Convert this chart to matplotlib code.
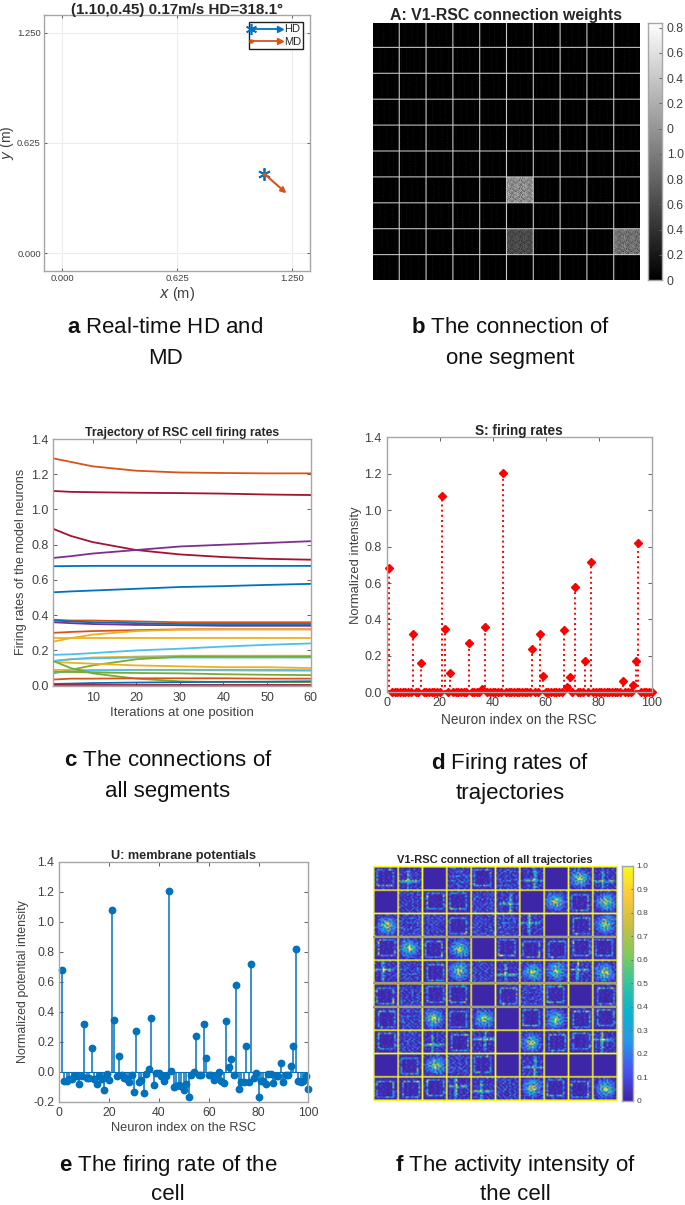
import numpy as np
import matplotlib
matplotlib.use("Agg")
import matplotlib.pyplot as plt
from matplotlib.colors import LinearSegmentedColormap
from matplotlib.legend_handler import HandlerBase
from matplotlib.lines import Line2D

plt.rcParams['font.family'] = ['Liberation Sans', 'DejaVu Sans']
plt.rcParams['mathtext.fontset'] = 'custom'
plt.rcParams['mathtext.bf'] = 'Liberation Sans:bold'
plt.rcParams['mathtext.rm'] = 'Liberation Sans'
plt.rcParams['axes.unicode_minus'] = False

W, H = 685, 1205
BLUE, ORANGE, YELLOW, PURPLE, GREEN, CYAN, DARKRED = '#0072BD', '#D95319', '#EDB120', '#7E2F8E', '#77AC30', '#4DBEEE', '#A2142F'
TXT = '#404040'
EDGE = '#a6a6a6'

# panel a
hd_pos = [1.10, 0.45]
md_tip = [1.22, 0.34]
pos_ticks = [0.0, 0.625, 1.25]
pos_labels = ['0.000', '0.625', '1.250']

# panel b
b_cbar_ticks = [0, 0.2, 0.4, 0.6, 0.8, 1.0, 1.2, 1.4, 1.6, 1.8, 2.0]
b_cbar_labels = ['0', '0.2', '0.4', '0.6', '0.8', '1.0', '0', '0.2', '0.4', '0.6', '0.8']
# row, column, grey level of the three bright cells
b_bright_row = [6, 8, 8]
b_bright_col = [5, 5, 9]
b_bright_val = [0.62, 0.33, 0.50]
speckle_tile = ["79685947", "58976869", "96748597", "67859468",
                "85697956", "49768685", "78594769", "69857498"]
streak_tile = ["000010000200", "000000000100", "000020000000", "000010000200",
               "000000000000", "000020000100", "000010000200", "000000000000",
               "000020000100", "000010000000", "000000000200", "000020000100"]

# panel c, sampled at these iterations
iters = [1, 5, 10, 20, 30, 40, 50, 60]
traj_colors = [ORANGE, DARKRED, DARKRED, PURPLE, BLUE, BLUE, ORANGE, PURPLE, BLUE, ORANGE, YELLOW, YELLOW, CYAN,
               YELLOW, CYAN, GREEN, YELLOW, YELLOW, CYAN, GREEN, GREEN, ORANGE, BLUE, DARKRED, ORANGE]
traj_rates = [
    [1.29, 1.27, 1.245, 1.22, 1.21, 1.207, 1.205, 1.205],
    [1.105, 1.10, 1.098, 1.095, 1.093, 1.09, 1.085, 1.082],
    [0.89, 0.85, 0.815, 0.77, 0.745, 0.73, 0.72, 0.715],
    [0.725, 0.735, 0.75, 0.77, 0.79, 0.80, 0.81, 0.82],
    [0.678, 0.679, 0.68, 0.68, 0.68, 0.68, 0.68, 0.68],
    [0.53, 0.535, 0.54, 0.55, 0.56, 0.565, 0.572, 0.578],
    [0.375, 0.37, 0.37, 0.365, 0.36, 0.36, 0.36, 0.36],
    [0.36, 0.355, 0.35, 0.345, 0.343, 0.34, 0.34, 0.34],
    [0.37, 0.365, 0.36, 0.355, 0.35, 0.35, 0.35, 0.35],
    [0.30, 0.305, 0.31, 0.315, 0.32, 0.32, 0.32, 0.32],
    [0.25, 0.27, 0.29, 0.31, 0.318, 0.32, 0.32, 0.32],
    [0.27, 0.27, 0.27, 0.27, 0.27, 0.27, 0.27, 0.27],
    [0.175, 0.178, 0.185, 0.20, 0.21, 0.222, 0.232, 0.24],
    [0.14, 0.15, 0.16, 0.165, 0.17, 0.17, 0.17, 0.17],
    [0.14, 0.15, 0.155, 0.16, 0.16, 0.16, 0.16, 0.16],
    [0.07, 0.09, 0.115, 0.15, 0.165, 0.165, 0.165, 0.165],
    [0.135, 0.13, 0.125, 0.115, 0.11, 0.105, 0.105, 0.10],
    [0.09, 0.09, 0.09, 0.09, 0.088, 0.087, 0.085, 0.085],
    [0.075, 0.08, 0.085, 0.09, 0.09, 0.09, 0.09, 0.088],
    [0.14, 0.10, 0.07, 0.04, 0.025, 0.02, 0.02, 0.02],
    [0.08, 0.078, 0.075, 0.072, 0.07, 0.065, 0.062, 0.06],
    [0.035, 0.04, 0.04, 0.042, 0.042, 0.042, 0.04, 0.04],
    [0.01, 0.012, 0.015, 0.018, 0.02, 0.022, 0.023, 0.025],
    [0.003, 0.003, 0.003, 0.003, 0.003, 0.003, 0.003, 0.003],
    [0.0, 0.0, 0.0, 0.0, 0.0, 0.0, 0.0, 0.0],
]

# panel d
neuron_idx = list(range(1, 101))
firing_idx = [1, 10, 13, 21, 22, 24, 31, 36, 37, 44, 55, 58, 59, 67, 68, 69, 71, 75, 77, 89, 93, 94, 95]
firing_val = [0.68, 0.32, 0.16, 1.08, 0.345, 0.105, 0.27, 0.02, 0.36, 1.205, 0.24, 0.32, 0.09, 0.34, 0.03, 0.085,
              0.58, 0.17, 0.715, 0.06, 0.04, 0.17, 0.82]

# panel e
membrane = [0.68, -0.065, -0.06, -0.05, -0.05, -0.03, -0.03, -0.08, -0.03, 0.32,
            -0.04, -0.04, 0.16, -0.05, -0.085, -0.03, -0.05, -0.125, -0.015, -0.055,
            1.08, 0.345, -0.03, 0.105, -0.025, -0.04, -0.05, -0.07, -0.02, -0.135,
            0.27, -0.07, -0.055, -0.145, -0.015, 0.02, 0.36, -0.09, -0.01, -0.01,
            -0.03, -0.06, -0.03, 1.205, 0.005, -0.105, -0.095, -0.09, -0.095, -0.12,
            -0.085, -0.17, -0.02, -0.005, 0.24, -0.02, -0.025, 0.32, 0.09, -0.025,
            -0.02, -0.055, -0.03, -0.005, -0.06, -0.075, 0.34, 0.03, 0.085, -0.025,
            0.58, -0.115, -0.07, -0.07, 0.17, -0.07, 0.715, -0.04, -0.01, -0.17,
            -0.06, -0.06, -0.08, -0.015, -0.015, -0.075, -0.03, -0.03, 0.06, -0.07,
            -0.02, -0.02, 0.04, 0.17, 0.82, -0.065, -0.07, -0.06, -0.03, -0.115]

# panel f, kind of firing map seen in each cell
f_kinds = ["RXENRNXEBX",
           "ENRRNXEBRB",
           "BNNRNNXERB",
           "RBRBERRRRR",
           "XNRBNXBBXB",
           "RNRRERNRER",
           "RNBRBERBRR",
           "RNXRXEBRRX",
           "ERBNREXEEE",
           "RRRXXNBRRB"]
f_templates = {
    'E': ["00000000000000", "00000000000000", "00000000000000", "00000000000000", "00000000000000",
          "00000000000000", "00000000000000", "00000000000000", "00000000000000", "00000000000000",
          "00000000000000", "00000000000000", "00000000000000", "00000000000000"],
    'N': ["01002001001000", "00100010200100", "20010300010020", "00201001002000", "01000200100100",
          "00300010020010", "10010200300100", "00200100010020", "01000301002000", "20100010100100",
          "00010200020010", "10200100300200", "00100020010000", "01001000100100"],
    'R': ["00100010020000", "01342310453100", "02000000000300", "01000000000400", "04000000000100",
          "03000000000300", "01000000000200", "04000000000100", "03000000000300", "01000000000400",
          "05000000000300", "03664305346100", "00101000100100", "00000100000000"],
    'X': ["00001400010000", "00003600000100", "01003500100000", "00002400000000", "00003700000100",
          "34534873454310", "01013630241200", "00002400000000", "00003500100000", "01003400000100",
          "00002500000000", "00003400010000", "00001300000000", "00000100000000"],
    'B': ["00010100010000", "00120310201000", "01231232130100", "02132423221200", "01324354232100",
          "13243576342210", "02345798453120", "12354687543210", "01243564342200", "02132435231100",
          "01213232312100", "00121312120000", "00010201010000", "00000100000000"],
}
# uneven strength along the templates
f_spots = ["79359826471935", "36928157394682", "85147369258147", "29673518962734",
           "64185927346185", "17392648175926", "93562714839457", "48217963521698",
           "75934182697324", "21689537418563", "96348271956182", "53712968437295",
           "18469325781643", "67251849362978"]
parula = [(0.2422, 0.1504, 0.6603), (0.2810, 0.3228, 0.9579), (0.1540, 0.5902, 0.9218), (0.0297, 0.7082, 0.8163),
          (0.1938, 0.7758, 0.6251), (0.5044, 0.7993, 0.3480), (0.8000, 0.7500, 0.2500), (0.9932, 0.7887, 0.2246),
          (0.9769, 0.9839, 0.0805)]
f_gray_rows = [3, 5, 6]
f_cbar_ticks = [0, 0.1, 0.2, 0.3, 0.4, 0.5, 0.6, 0.7, 0.8, 0.9, 1.0]
f_cbar_labels = ['0', '0.1', '0.2', '0.3', '0.4', '0.5', '0.6', '0.7', '0.8', '0.9', '1.0']

captions = [(165, 328, r"$\mathbf{a}$ Real-time HD and", "MD"),
            (510, 328, r"$\mathbf{b}$ The connection of", "one segment"),
            (168, 761, r"$\mathbf{c}$ The connections of", "all segments"),
            (510, 763, r"$\mathbf{d}$ Firing rates of", "trajectories"),
            (168, 1165, r"$\mathbf{e}$ The firing rate of the", "cell"),
            (515, 1165, r"$\mathbf{f}$ The activity intensity of", "the cell")]


def box(fig, left, top, right, bottom):
    """axes from pixel edges of the picture"""
    return fig.add_axes([left / W, 1 - bottom / H, (right - left) / W, (bottom - top) / H])


def style(ax, size, ticklen=3, pad=3.5):
    for s in ax.spines.values():
        s.set_color(EDGE)
        s.set_linewidth(1.0)
    ax.tick_params(direction='in', length=ticklen, width=0.7, color='#606060', labelcolor=TXT,
                   labelsize=size, top=True, right=True, pad=pad)


def digits(rows):
    return np.array([[int(c) / 9 for c in r] for r in rows])


class ArrowHandle(HandlerBase):
    """legend key: star, line and arrow head"""
    def create_artists(self, legend, orig, xd, yd, width, height, fontsize, trans):
        y = height / 2 - yd
        c = orig.get_color()
        line = Line2D([-xd, width - xd], [y, y], color=c, lw=1.3, transform=trans)
        start = Line2D([-xd], [y], color=c, marker=orig.get_marker(), ms=orig.get_markersize(), mew=1.2, transform=trans)
        head = Line2D([width - xd], [y], color=c, marker='>', ms=4.5, transform=trans)
        return [line, start, head]


fig = plt.figure(figsize=(W / 100, H / 100), dpi=100)

# a: HD and MD
ax = box(fig, 44.3, 15, 310, 271)
ax.set_xlim(-0.098, 1.348)
ax.set_ylim(-0.1, 1.35)
ax.grid(True, color='#ececec', lw=0.8)
ax.set_axisbelow(True)
ax.annotate('', xy=md_tip, xytext=hd_pos, arrowprops=dict(arrowstyle='-|>', color=ORANGE, lw=1.5, mutation_scale=8, shrinkA=0, shrinkB=0))
ax.plot(*hd_pos, marker=(6, 2, 0), color=BLUE, ms=9, mew=1.3, ls='none')
ax.plot(*hd_pos, marker='.', color=ORANGE, ms=4, ls='none')
ax.set_xticks(pos_ticks, pos_labels)
ax.set_yticks(pos_ticks, pos_labels)
style(ax, 6.8, 2, 2.5)
ax.set_xlabel(r"$\mathit{x}$ (m)", fontsize=10.5, color=TXT, labelpad=1)
ax.set_ylabel(r"$\mathit{y}$ (m)", fontsize=10, color=TXT)
ax.yaxis.set_label_coords(-0.108, 0.5)
ax.set_title("(1.10,0.45) 0.17m/s HD=318.1°", fontsize=10.9, fontweight='bold', color='#262626', pad=1)
keys = [Line2D([], [], color=BLUE, marker=(6, 2, 0), ms=8), Line2D([], [], color=ORANGE, marker='.', ms=4)]
leg = ax.legend(keys, ['HD', 'MD'], handler_map={Line2D: ArrowHandle()}, loc='upper right', bbox_to_anchor=(0.975, 0.972),
                borderaxespad=0, fontsize=8, fancybox=False, edgecolor='#202020', framealpha=1, handlelength=2.6,
                handletextpad=0.35, borderpad=0.2, labelspacing=0.25, labelcolor='#262626')
leg.get_frame().set_linewidth(1.0)

# b: connection weights
streak = np.tile(digits(streak_tile), (2, 2))
speckle = np.tile(digits(speckle_tile), (3, 3))
cell = 24
montage = np.zeros((10 * cell + 9, 10 * cell + 9))
for i in range(10):
    for j in range(10):
        tile = np.roll(streak, (3 * i + 5 * j, 2 * i + 7 * j), axis=(0, 1)) * 0.25
        r, c = i * (cell + 1), j * (cell + 1)
        montage[r:r + cell, c:c + cell] = tile
for i, j, v in zip(b_bright_row, b_bright_col, b_bright_val):
    r, c = i * (cell + 1), j * (cell + 1)
    montage[r:r + cell, c:c + cell] = speckle * v * 1.15
montage[cell::cell + 1, :] = 0.8
montage[:, cell::cell + 1] = 0.8
ax = box(fig, 373, 22.7, 640, 280)
ax.imshow(montage, cmap='gray', vmin=0, vmax=1, aspect='auto', interpolation='bilinear')
ax.axis('off')
ax.set_title("A: V1-RSC connection weights", fontsize=11.4, fontweight='bold', color='#262626', pad=1.5)

ax = box(fig, 648, 22.7, 662, 280)
ramp = np.linspace(1, 0, 256).reshape(-1, 1)
ax.imshow(ramp, cmap='gray', vmin=0, vmax=1, aspect='auto', extent=[0, 1, 0, 2.04])
ax.set_xticks([])
ax.yaxis.tick_right()
ax.set_yticks(b_cbar_ticks, b_cbar_labels)
style(ax, 8.8, 2)
ax.tick_params(top=False, left=False, right=True)

# c: trajectories
ax = box(fig, 53.3, 439, 310.7, 685.7)
for color, rates in zip(traj_colors, traj_rates):
    ax.plot(iters, rates, color=color, lw=1.3)
ax.set_xlim(1, 60)
ax.set_ylim(0, 1.4)
ax.set_xticks([10, 20, 30, 40, 50, 60])
ax.set_yticks(np.arange(0, 1.5, 0.2))
ax.yaxis.set_major_formatter('{x:.1f}')
style(ax, 9)
ax.tick_params(axis='x', pad=4.5)
ax.set_xlabel("Iterations at one position", fontsize=9.5, color=TXT, labelpad=2.5)
ax.set_ylabel("Firing rates of the model neurons", fontsize=9.1, color=TXT, labelpad=3)
ax.set_title("Trajectory of RSC cell firing rates", fontsize=8.8, fontweight='bold', color='#262626', pad=2)

# d: firing rates
rates = [firing_val[firing_idx.index(n)] if n in firing_idx else 0.0 for n in neuron_idx]
ax = box(fig, 386.7, 437.3, 651.7, 692.3)
m, st, base = ax.stem(neuron_idx, rates, linefmt='r:', markerfmt='rD', basefmt='r-')
m.set_markersize(4)
m.set_clip_on(False)
st.set_linewidth(1.4)
base.set_linewidth(0.8)
ax.set_xlim(0, 100)
ax.set_ylim(0, 1.4)
ax.set_xticks([0, 20, 40, 60, 80, 100])
ax.set_yticks(np.arange(0, 1.5, 0.2))
ax.yaxis.set_major_formatter('{x:.1f}')
style(ax, 9)
ax.set_xlabel("Neuron index on the RSC", fontsize=9.8, color=TXT, labelpad=2.5)
ax.set_ylabel("Normalized intensity", fontsize=9.4, color=TXT, labelpad=2)
ax.set_title("S: firing rates", fontsize=9.8, fontweight='bold', color='#262626', pad=2)

# e: membrane potentials
ax = box(fig, 59.3, 861.7, 308.3, 1101.7)
m, st, base = ax.stem(neuron_idx, membrane, linefmt='-', markerfmt='o', basefmt='-')
plt.setp([m, st, base], color=BLUE)
m.set_markersize(4.6)
m.set_clip_on(False)
st.set_linewidth(1.1)
base.set_linewidth(0.8)
ax.set_xlim(0, 100)
ax.set_ylim(-0.2, 1.4)
ax.set_xticks([0, 20, 40, 60, 80, 100])
ax.set_yticks(np.arange(-0.2, 1.5, 0.2))
ax.yaxis.set_major_formatter('{x:.1f}')
style(ax, 8.8)
ax.set_xlabel("Neuron index on the RSC", fontsize=9.2, color=TXT, labelpad=2.5)
ax.set_ylabel("Normalized potential intensity", fontsize=8.9, color=TXT, labelpad=3)
ax.set_title("U: membrane potentials", fontsize=9.2, fontweight='bold', color='#262626', pad=2)

# f: all trajectories
cmap = LinearSegmentedColormap.from_list('parula_like', parula)
cell = 14
noise = digits(f_templates['N'])
spots = digits(f_spots)
montage = np.ones((10 * cell + 11, 10 * cell + 11))
for i, row in enumerate(f_kinds):
    for j, kind in enumerate(row):
        # same templates turned around so neighbours do not look identical
        mask = np.roll(spots, (5 * i + 3 * j, 2 * i + 7 * j), axis=(0, 1))
        tile = np.rot90(digits(f_templates[kind]), i + j) * mask * 1.5
        if kind != 'E':
            gain = 0.35 if kind == 'R' else 0.8
            tile = np.maximum(tile, np.roll(noise, (3 * i + j, i + 5 * j), axis=(0, 1)) * gain)
        r, c = i * (cell + 1) + 1, j * (cell + 1) + 1
        montage[r:r + cell, c:c + cell] = np.clip(tile, 0, 1)
ax = box(fig, 372.7, 865.7, 616.7, 1100.7)
ax.imshow(montage, cmap=cmap, vmin=0, vmax=1, aspect='auto', interpolation='bilinear')
for row in f_gray_rows:
    ax.axhline(row * (cell + 1), color='#a0a070', lw=1.6)
ax.axis('off')
ax.set_title("V1-RSC connection of all trajectories", fontsize=8, fontweight='bold', color='#262626', pad=2)

ax = box(fig, 622, 865.7, 632.7, 1100.7)
ax.imshow(np.linspace(1, 0, 256).reshape(-1, 1), cmap=cmap, vmin=0, vmax=1, aspect='auto', extent=[0, 1, 0, 1])
ax.set_xticks([])
ax.yaxis.tick_right()
ax.set_yticks(f_cbar_ticks, f_cbar_labels)
style(ax, 6, 1.5, 2.5)
ax.tick_params(top=False, left=False, right=True)

for x, y, line1, line2 in captions:
    fig.text(x / W, 1 - y / H, line1, fontsize=16, color='#111111', ha='center', va='center')
    fig.text(x / W, 1 - (y + 30) / H, line2, fontsize=16, color='#111111', ha='center', va='center')

fig.savefig("out.png", dpi=100)
